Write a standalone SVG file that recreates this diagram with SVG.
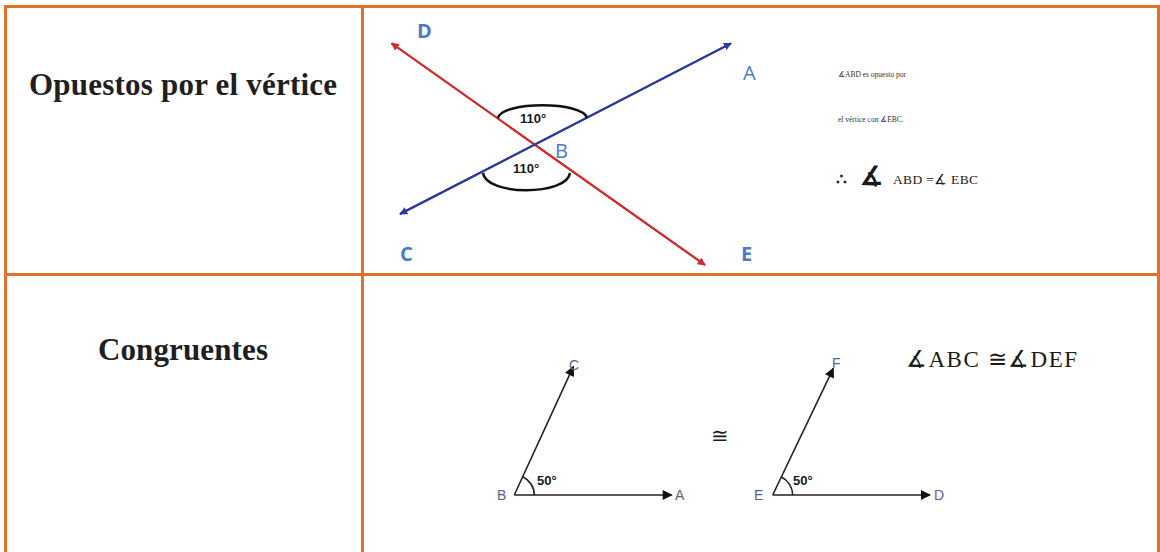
<svg xmlns="http://www.w3.org/2000/svg" width="1160" height="552" viewBox="0 0 1160 552">
<style>
.grid{stroke:#e2722b;stroke-width:3;fill:none}
.head{font-family:"Liberation Serif","Times New Roman",serif;font-weight:bold;font-size:31px;fill:#1f1f1f}
.pt{font-family:"Open Sans","Liberation Sans",sans-serif;font-size:20px;fill:#4a7cc4}
.ptb{font-family:"Open Sans","Liberation Sans",sans-serif;font-size:20px;font-weight:bold;fill:#4a7cc4}
.deg{font-family:"Liberation Sans",Arial,sans-serif;font-size:13px;font-weight:bold;fill:#1a1a1a}
.small{font-family:"Liberation Serif","Times New Roman","DejaVu Serif",serif;font-size:7.5px;fill:#333}
.ser{font-family:"Liberation Serif","Times New Roman","DejaVu Serif",serif;fill:#1a1a1a}
.lbl{font-family:"Liberation Sans",Arial,sans-serif;font-size:14px;fill:#5c5c8f}
.ray{stroke:#222;stroke-width:1.6;fill:none}
</style>
<defs>
<marker id="ar" viewBox="0 0 10 10" refX="9" refY="5" markerWidth="8" markerHeight="8" markerUnits="userSpaceOnUse" orient="auto"><path d="M0,0 L10,5 L0,10 z" fill="#d42a2a"/></marker>
<marker id="ab" viewBox="0 0 10 10" refX="9" refY="5" markerWidth="8" markerHeight="8" markerUnits="userSpaceOnUse" orient="auto"><path d="M0,0 L10,5 L0,10 z" fill="#2b3a9e"/></marker>
<marker id="ak" viewBox="0 0 10 10" refX="9" refY="5" markerWidth="11" markerHeight="10" markerUnits="userSpaceOnUse" orient="auto"><path d="M0,0 L10,5 L0,10 z" fill="#111"/></marker>
</defs>

<g id="table">
<line class="grid" x1="4" y1="6.5" x2="1160" y2="6.5"/>
<line class="grid" x1="5.5" y1="5" x2="5.5" y2="552"/>
<line class="grid" x1="362.5" y1="5" x2="362.5" y2="552"/>
<line class="grid" x1="1158.5" y1="5" x2="1158.5" y2="552"/>
<line class="grid" x1="4" y1="274.5" x2="1160" y2="274.5"/>
</g>

<g id="row1-title"><text class="head" x="29" y="95" textLength="308">Opuestos por el vértice</text></g>
<g id="row2-title"><text class="head" x="98" y="360" textLength="170">Congruentes</text></g>

<g id="connectors">
<line x1="705" y1="265" x2="391.5" y2="43.3" stroke="#d42a2a" stroke-width="2" marker-end="url(#ar)"/>
<line x1="391.5" y1="43.3" x2="705" y2="265" stroke="#d42a2a" stroke-width="2" marker-end="url(#ar)"/>
<line x1="400" y1="214" x2="731" y2="43.3" stroke="#2b3a9e" stroke-width="2" marker-end="url(#ab)"/>
<line x1="731" y1="43.3" x2="400" y2="214" stroke="#2b3a9e" stroke-width="2" marker-end="url(#ab)"/>
<line class="ray" x1="514.3" y1="495" x2="671.7" y2="495" marker-end="url(#ak)"/>
<line class="ray" x1="514.3" y1="495" x2="573.3" y2="366.7" marker-end="url(#ak)"/>
<line class="ray" x1="772.7" y1="495" x2="930" y2="495" marker-end="url(#ak)"/>
<line class="ray" x1="772.7" y1="495" x2="833.3" y2="368.3" marker-end="url(#ak)"/>
</g>

<g id="vertical-angles">
<path d="M498,118 C502,101 583,101 587,118" stroke="#111" stroke-width="2.5" fill="none"/>
<path d="M483,173 C486,196 567,196 570,173" stroke="#111" stroke-width="2.5" fill="none"/>
<text class="deg" x="520" y="123">110°</text>
<text class="deg" x="513" y="173">110°</text>
<text class="ptb" x="417" y="38">D</text>
<text class="pt" x="743" y="80">A</text>
<text class="pt" x="555" y="158">B</text>
<text class="ptb" x="400" y="261">C</text>
<text class="ptb" x="741" y="261">E</text>
</g>

<g id="explanation">
<text class="small" x="838" y="77">∡ABD es opuesto por</text>
<text class="small" x="838" y="122">el vértice con ∡EBC.</text>
<text class="ser" x="836" y="185" font-size="17" font-weight="bold">∴</text>
<text class="ser" x="860" y="185" font-size="26" font-weight="bold">∡</text>
<text class="ser" x="893" y="184" font-size="13.5" textLength="85">ABD =∡ EBC</text>
</g>

<g id="angle-ABC">
<path d="M534.3,495 A20,20 0 0 0 522.7,476.8" class="ray"/>
<text class="deg" x="537" y="485" font-size="14">50°</text>
<text class="lbl" x="569" y="370">C</text>
<text class="lbl" x="497" y="500">B</text>
<text class="lbl" x="675" y="500">A</text>
</g>

<g id="congruent-sign"><text class="ser" x="711" y="443" font-size="21" fill="#555">≅</text></g>

<g id="angle-DEF">
<path d="M792.7,495 A20,20 0 0 0 781.3,477" class="ray"/>
<text class="deg" x="793" y="485" font-size="14">50°</text>
<text class="lbl" x="832" y="368">F</text>
<text class="lbl" x="754" y="500">E</text>
<text class="lbl" x="934" y="500">D</text>
</g>

<g id="congruence-statement"><text class="ser" x="906" y="367" font-size="23" textLength="171">∡ABC ≅∡DEF</text></g>
</svg>
